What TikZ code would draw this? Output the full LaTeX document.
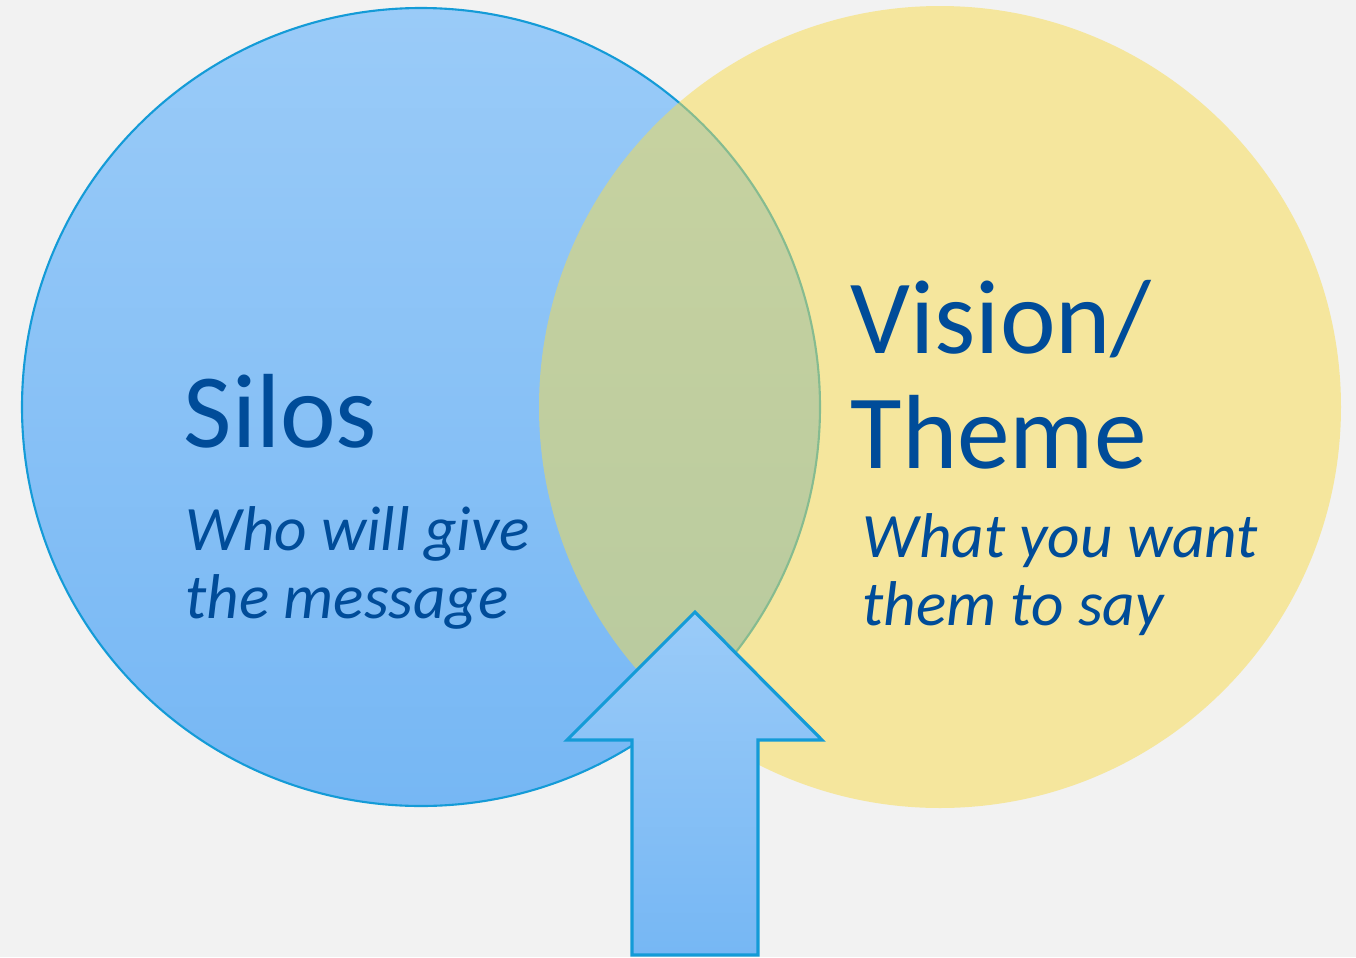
\documentclass[tikz,border=0pt]{standalone}
\usepackage{fontspec}
\setmainfont{Carlito}
\usetikzlibrary{calc}
\definecolor{bgGray}{RGB}{242,242,242}
\definecolor{skyTop}{RGB}{154,203,248}
\definecolor{skyBottom}{RGB}{118,183,244}
\definecolor{skyLine}{RGB}{20,155,215}
\definecolor{sunFill}{RGB}{248,220,74}
\definecolor{inkBlue}{RGB}{0,76,153}

\tikzset{
  skydisc/.style={top color=skyTop, bottom color=skyBottom, draw=skyLine, line width=0.6pt},
  sundisc/.style={fill=sunFill, fill opacity=0.5},
  uparrow/.style={top color=skyTop, bottom color=skyBottom, draw=skyLine, line width=0.9pt},
  headline/.style={inner sep=0pt, anchor=base west, align=left, text=inkBlue,
    font=\fontsize{30pt}{32.7pt}\selectfont},
  subline/.style={inner sep=0pt, anchor=base west, align=left, text=inkBlue,
    font=\fontsize{18pt}{19.3pt}\selectfont\itshape}
}

\begin{document}
\begin{tikzpicture}
  \fill[bgGray] (0,0) rectangle (13.56,9.57);
  \useasboundingbox (0,0) rectangle (13.56,9.57);

  % the two circles
  \coordinate (silosC) at (4.21,5.50);
  \coordinate (visionC) at (9.40,5.50);
  \shade[skydisc] (silosC) circle (3.99);
  \fill[sundisc] (visionC) circle (4.01);

  % arrow into the overlap
  \coordinate (tip) at (6.95,3.45);
  \coordinate (headL) at (5.67,2.17);
  \coordinate (headR) at (8.22,2.17);
  \shade[uparrow] (tip) -- (headR) -- (7.58,2.17) -- (7.58,0.02)
    -- (6.32,0.02) -- (6.32,2.17) -- (headL) -- cycle;

  % labels (base = last line)
  \node[headline] (silos) at (1.83,5.10) {Silos};
  \node[subline] (who) at (1.85,3.39) {Who will give\\the message};
  \node[headline] (vision) at (8.50,4.89) {Vision/\\Theme};
  \node[subline] (what) at (8.62,3.32) {What you want\\them to say};
\end{tikzpicture}
\end{document}
